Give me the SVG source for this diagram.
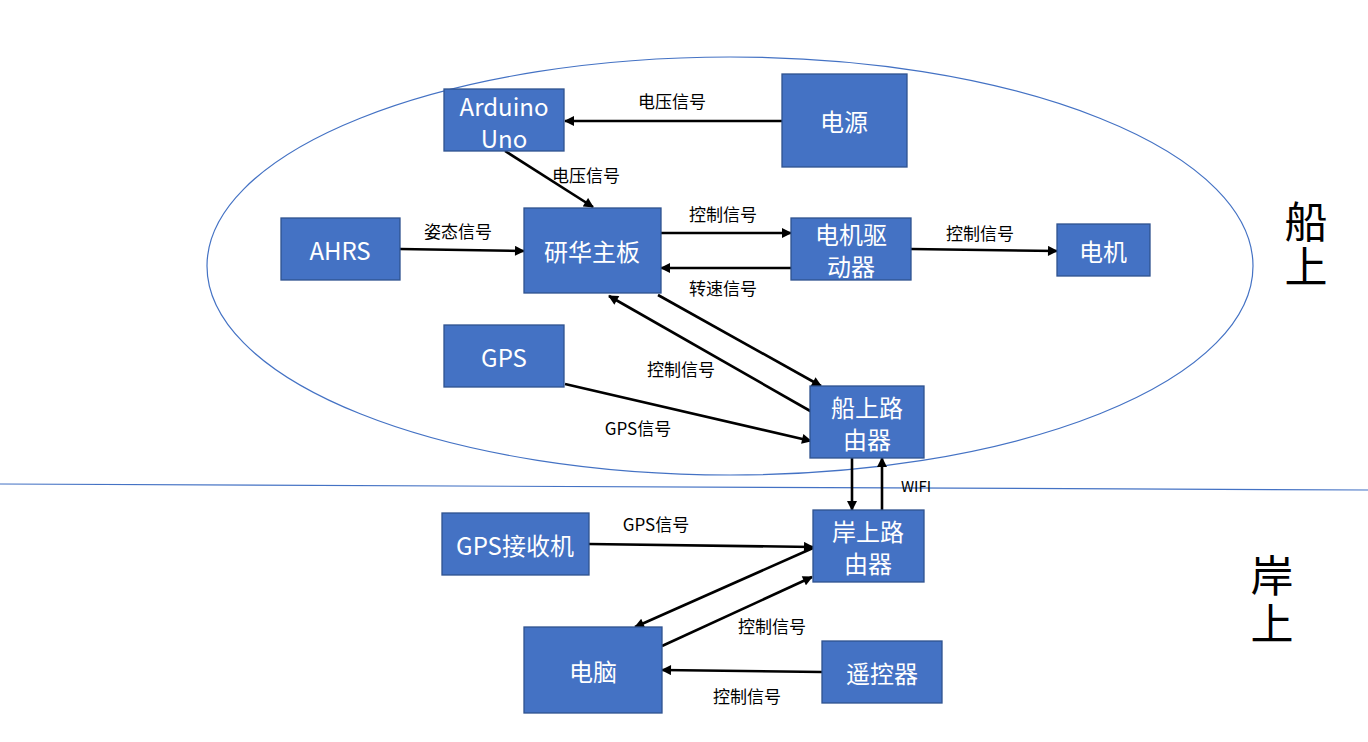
<svg xmlns="http://www.w3.org/2000/svg" width="1368" height="742" viewBox="0 0 1368 742">
<style>
.node rect{fill:#4472C4;stroke:#2F528F;stroke-width:1.3}
.node text{fill:#fff;font-family:"Noto Sans CJK SC","Noto Sans",sans-serif;font-size:24px;text-anchor:middle;dominant-baseline:central}
.lbl{fill:#000;font-family:"Noto Sans CJK SC","Noto Sans",sans-serif;font-size:17px;text-anchor:middle;dominant-baseline:central}
.big{fill:#000;font-family:"Noto Sans CJK SC",sans-serif;font-size:43px;text-anchor:middle}
#connectors line{stroke:#000;stroke-width:2.6;marker-end:url(#arr)}
</style>
<defs>
<marker id="arr" viewBox="0 0 10 10" refX="9" refY="5" markerWidth="11" markerHeight="10" markerUnits="userSpaceOnUse" orient="auto">
<path d="M0,0 L10,5 L0,10 z" fill="#000"/>
</marker>
</defs>
<rect width="1368" height="742" fill="#fff"/>
<g id="regions">
<ellipse cx="730" cy="266" rx="523" ry="209" fill="none" stroke="#4472C4" stroke-width="1.2"/>
<line x1="0" y1="484" x2="1368" y2="490" stroke="#4472C4" stroke-width="1.2"/>
<text class="big" x="1306" y="238">船<tspan x="1306" dy="45">上</tspan></text>
<text class="big" x="1272" y="592">岸<tspan x="1272" dy="48">上</tspan></text>
</g>
<g id="connectors">
<line x1="782" y1="121" x2="565" y2="121"/>
<line x1="505" y1="151" x2="593" y2="207"/>
<line x1="400" y1="249" x2="524" y2="251"/>
<line x1="661" y1="233" x2="791" y2="233"/>
<line x1="791" y1="268" x2="661" y2="268"/>
<line x1="911" y1="249" x2="1057" y2="251"/>
<line x1="658" y1="295" x2="821" y2="386"/>
<line x1="812" y1="412" x2="609" y2="296"/>
<line x1="565" y1="384" x2="811" y2="441"/>
<line x1="852" y1="458" x2="852" y2="510"/>
<line x1="882" y1="510" x2="882" y2="458"/>
<line x1="589" y1="544" x2="813" y2="547"/>
<line x1="813" y1="548" x2="635" y2="627"/>
<line x1="662" y1="646" x2="812" y2="577"/>
<line x1="822" y1="672" x2="662" y2="670"/>
</g>
<g id="labels">
<text class="lbl" x="672" y="100">电压信号</text>
<text class="lbl" x="586" y="174">电压信号</text>
<text class="lbl" x="723" y="213">控制信号</text>
<text class="lbl" x="458" y="230">姿态信号</text>
<text class="lbl" x="980" y="232">控制信号</text>
<text class="lbl" x="723" y="287">转速信号</text>
<text class="lbl" x="681" y="368">控制信号</text>
<text class="lbl" x="638" y="427">GPS信号</text>
<text class="lbl" x="916" y="485" style="font-size:15px">WIFI</text>
<text class="lbl" x="656" y="523">GPS信号</text>
<text class="lbl" x="772" y="625">控制信号</text>
<text class="lbl" x="747" y="695">控制信号</text>
</g>
<g id="arduino" class="node"><rect x="444" y="89" width="120" height="62"/><text x="504" y="105">Arduino</text><text x="504" y="137">Uno</text></g>
<g id="power" class="node"><rect x="782" y="74" width="125" height="93"/><text x="844" y="120">电源</text></g>
<g id="ahrs" class="node"><rect x="281" y="218" width="119" height="62"/><text x="340" y="249">AHRS</text></g>
<g id="board" class="node"><rect x="524" y="208" width="137" height="85"/><text x="592" y="250">研华主板</text></g>
<g id="driver" class="node"><rect x="791" y="218" width="120" height="62"/><text x="851" y="233">电机驱</text><text x="851" y="265">动器</text></g>
<g id="motor" class="node"><rect x="1057" y="224" width="93" height="52"/><text x="1103" y="250">电机</text></g>
<g id="gps" class="node"><rect x="444" y="325" width="120" height="62"/><text x="504" y="356">GPS</text></g>
<g id="boatrouter" class="node"><rect x="810" y="386" width="114" height="72"/><text x="867" y="406">船上路</text><text x="867" y="438">由器</text></g>
<g id="gpsrecv" class="node"><rect x="442" y="513" width="147" height="62"/><text x="515" y="544">GPS接收机</text></g>
<g id="shorerouter" class="node"><rect x="813" y="510" width="111" height="72"/><text x="868" y="530">岸上路</text><text x="868" y="562">由器</text></g>
<g id="pc" class="node"><rect x="524" y="627" width="138" height="86"/><text x="593" y="670">电脑</text></g>
<g id="remote" class="node"><rect x="822" y="641" width="120" height="62"/><text x="882" y="672">遥控器</text></g>
</svg>
